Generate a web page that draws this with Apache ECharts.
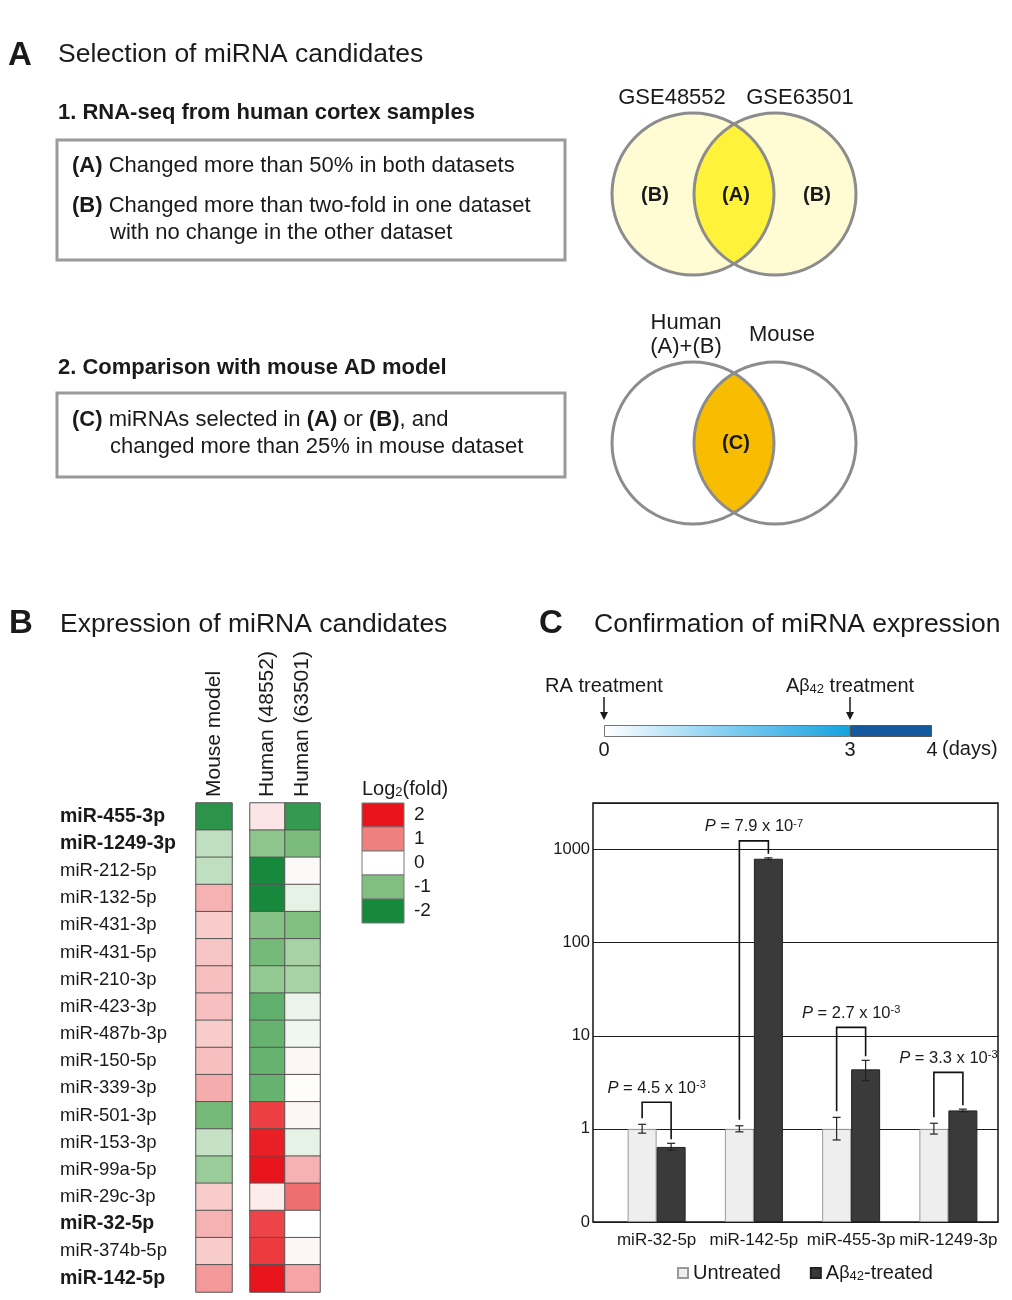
<!DOCTYPE html>
<html><head><meta charset="utf-8">
<script src="https://cdn.jsdelivr.net/npm/echarts@6/dist/echarts.min.js"></script>
<style>html,body{margin:0;padding:0;background:#fff}#c{width:1012px;height:1300px}</style>
</head><body><div id="c"></div>
<script>
const FONT = '"Liberation Sans", Arial, Helvetica, sans-serif';
const TXT = '#1a1a1a';

// ---------- Panel B : heatmap ----------
const ROWS = ['miR-455-3p','miR-1249-3p','miR-212-5p','miR-132-5p','miR-431-3p','miR-431-5p','miR-210-3p','miR-423-3p','miR-487b-3p','miR-150-5p','miR-339-3p','miR-501-3p','miR-153-3p','miR-99a-5p','miR-29c-3p','miR-32-5p','miR-374b-5p','miR-142-5p'];
const BOLD_ROWS = ['miR-455-3p','miR-1249-3p','miR-32-5p','miR-142-5p'];
const HEAT_COLS_MOUSE = ['Mouse model'];
const HEAT_COLS_HUMAN = ['Human (48552)','Human (63501)'];
const MOUSE_LOG2 = [-1.8,-0.5,-0.5,0.6,0.4,0.45,0.5,0.5,0.4,0.5,0.65,-1.1,-0.45,-0.8,0.4,0.6,0.4,0.8];
const HUMAN48552_LOG2 = [0.2,-0.9,-2,-2,-0.95,-1.1,-0.85,-1.3,-1.25,-1.25,-1.25,1.6,1.9,2,0.15,1.55,1.65,2];
const HUMAN63501_LOG2 = [-1.7,-1.05,0.05,-0.2,-1.0,-0.7,-0.7,-0.15,-0.12,0.08,0.02,0.08,-0.2,0.6,1.15,0,0.08,0.7];
const LEGEND_TICKS = [2,1,0,-1,-2];
const COLOR_STOPS = ['#16893c','#80bf80','#ffffff','#f07f80','#e8141b']; // -2 .. 2

// ---------- Panel C : bars ----------
const BAR_CATS = ['miR-32-5p','miR-142-5p','miR-455-3p','miR-1249-3p'];
const UNTREATED = [1,1,1,1];
const UNTREATED_LO = [0.90,0.93,0.76,0.88];
const UNTREATED_HI = [1.12,1.08,1.33,1.15];
const TREATED = [0.64,797,4.36,1.58];
const TREATED_LO = [0.59,780,3.3,1.53];
const TREATED_HI = [0.70,815,5.45,1.63];
const P_MANTISSA = ['4.5','7.9','2.7','3.3'];
const P_EXP = ['-3','-7','-3','-3'];
const BRACKET_TOP = [1.93,1240,12.3,4.05];
const Y_TICK_LABELS = ['0','1','10','100','1000'];

// ---------- Panel C : timeline ----------
const PHASE_START = [0,3];
const PHASE_END = [3,4];
const TIME_TICKS = [0,3,4];
const EVENT_DAYS = [0,3];
const EVENT_LABELS = ['RA treatment','A{b|β}{s|42} treatment'];

const BAR_W = 29;
const toAxis = v => Math.log10(v) + 1; // axis position: "0" label == 0.1

const sub = {fontSize: 13, fontFamily: FONT, fill: TXT, verticalAlign: 'bottom'};
const bold22 = {fontWeight: 'bold', fontSize: 22, fontFamily: FONT, fill: TXT};

function T(x, y, text, size, o) {
  return {type: 'text', x: x, y: y, z: 10,
    style: Object.assign({text: text, fontSize: size, fontFamily: FONT, fill: TXT, align: 'left', verticalAlign: 'middle'}, o || {})};
}
function lensPoints(cx1, cx2, cy, r) {
  const half = (cx2 - cx1) / 2;
  const a = Math.acos(half / r);
  const pts = [];
  const N = 60;
  for (let k = 0; k <= N; k++) {
    const t = -a + 2 * a * k / N;
    pts.push([cx1 + r * Math.cos(t), cy + r * Math.sin(t)]);
  }
  for (let k = 0; k <= N; k++) {
    const t = Math.PI - a + 2 * a * k / N;
    pts.push([cx2 + r * Math.cos(t), cy + r * Math.sin(t)]);
  }
  return pts;
}
function venn(cx1, cx2, cy, r, outer, inner) {
  return [
    {type: 'circle', z: 5, shape: {cx: cx1, cy: cy, r: r}, style: {fill: outer}},
    {type: 'circle', z: 5, shape: {cx: cx2, cy: cy, r: r}, style: {fill: outer}},
    {type: 'polygon', z: 6, shape: {points: lensPoints(cx1, cx2, cy, r)}, style: {fill: inner}},
    {type: 'circle', z: 7, shape: {cx: cx1, cy: cy, r: r}, style: {fill: 'none', stroke: '#8c8c8c', lineWidth: 3}},
    {type: 'circle', z: 7, shape: {cx: cx2, cy: cy, r: r}, style: {fill: 'none', stroke: '#8c8c8c', lineWidth: 3}}
  ];
}

const graphics = [
  T(8, 56, 'A', 33, {fontWeight: 'bold'}),
  T(58, 55, 'Selection of miRNA candidates', 26.5),
  T(58, 113, '1. RNA-seq from human cortex samples', 22, {fontWeight: 'bold'}),
  {type: 'rect', z: 5, shape: {x: 57, y: 140, width: 508, height: 120}, style: {fill: '#fff', stroke: '#9a9a9a', lineWidth: 3}},
  T(72, 166, '{b|(A)} Changed more than 50% in both datasets', 22, {rich: {b: bold22}}),
  T(72, 206, '{b|(B)} Changed more than two-fold in one dataset', 22, {rich: {b: bold22}}),
  T(110, 233, 'with no change in the other dataset', 22),
  T(58, 368, '2. Comparison with mouse AD model', 22, {fontWeight: 'bold'}),
  {type: 'rect', z: 5, shape: {x: 57, y: 393, width: 508, height: 84}, style: {fill: '#fff', stroke: '#9a9a9a', lineWidth: 3}},
  T(72, 420, '{b|(C)} miRNAs selected in {b|(A)} or {b|(B)}, and', 22, {rich: {b: bold22}}),
  T(110, 447, 'changed more than 25% in mouse dataset', 22),
  ...venn(693, 775, 194, 81, '#fffbd2', '#fff23a'),
  T(672, 98, 'GSE48552', 22, {align: 'center'}),
  T(800, 98, 'GSE63501', 22, {align: 'center'}),
  T(655, 195, '(B)', 20, {align: 'center', fontWeight: 'bold'}),
  T(736, 195, '(A)', 20, {align: 'center', fontWeight: 'bold'}),
  T(817, 195, '(B)', 20, {align: 'center', fontWeight: 'bold'}),
  ...venn(693, 775, 443, 81, '#ffffff', '#f8bc00'),
  T(686, 323, 'Human', 22, {align: 'center'}),
  T(686, 347, '(A)+(B)', 22, {align: 'center'}),
  T(782, 335, 'Mouse', 22, {align: 'center'}),
  T(736, 443, '(C)', 20, {align: 'center', fontWeight: 'bold'}),
  T(9, 624, 'B', 33, {fontWeight: 'bold'}),
  T(60, 625, 'Expression of miRNA candidates', 26.5),
  T(539, 624, 'C', 33, {fontWeight: 'bold'}),
  T(594, 625, 'Confirmation of miRNA expression', 26.5),
  T(362, 789, 'Log{s|2}(fold)', 20, {rich: {s: sub}}),
  T(942, 749, '(days)', 20)
];
LEGEND_TICKS.forEach((v, i) => {
  graphics.push({type: 'rect', z: 5, shape: {x: 362, y: 803 + i * 24, width: 42, height: 24},
    style: {fill: COLOR_STOPS[v + 2], stroke: '#777', lineWidth: 1}});
  graphics.push(T(414, 815 + i * 24, String(v), 19));
});

const heatMouse = MOUSE_LOG2.map((v, i) => [0, i, v]);
const heatHuman = HUMAN48552_LOG2.map((v, i) => [0, i, v]).concat(HUMAN63501_LOG2.map((v, i) => [1, i, v]));

const chart = echarts.init(document.getElementById('c'), null, {renderer: 'canvas'});
const headerLabel = {rotate: -90, fontSize: 21, fontFamily: FONT, color: TXT, margin: 6, interval: 0};

chart.setOption({
  backgroundColor: '#ffffff',
  animation: false,
  textStyle: {fontFamily: FONT, color: TXT},
  graphic: graphics,
  visualMap: {type: 'continuous', show: false, min: -2, max: 2, seriesIndex: [0, 1], inRange: {color: COLOR_STOPS}},
  legend: {
    left: 672, top: 1258, itemWidth: 10, itemHeight: 10, itemGap: 29, icon: 'rect',
    data: ['Untreated', 'Aβ42-treated'],
    formatter: n => n === 'Aβ42-treated' ? 'A{b|β}{s|42}-treated' : n,
    textStyle: {fontSize: 20, fontFamily: FONT, color: TXT,
      rich: {b: {fontSize: 18, fontFamily: FONT, fill: TXT}, s: sub}}
  },
  grid: [
    {left: 196, top: 803, width: 36, height: 489},
    {left: 250, top: 803, width: 70, height: 489},
    {left: 604, top: 725, width: 328, height: 12},
    {left: 593, top: 803, width: 405, height: 419, show: true, borderColor: '#111', borderWidth: 1.5, backgroundColor: 'transparent'},
    {left: 608, top: 803, width: 389, height: 419}
  ],
  xAxis: [
    {gridIndex: 0, type: 'category', data: HEAT_COLS_MOUSE, position: 'top', axisLine: {show: false}, axisTick: {show: false}, axisLabel: headerLabel},
    {gridIndex: 1, type: 'category', data: HEAT_COLS_HUMAN, position: 'top', axisLine: {show: false}, axisTick: {show: false}, axisLabel: headerLabel},
    {gridIndex: 2, type: 'value', min: 0, max: 4, interval: 1, axisLine: {show: false}, axisTick: {show: false}, splitLine: {show: false},
      axisLabel: {fontSize: 20, fontFamily: FONT, color: TXT, margin: 3, formatter: v => TIME_TICKS.includes(v) ? String(v) : ''}},
    {gridIndex: 3, type: 'value', min: 0, max: 1, show: false},
    {gridIndex: 4, type: 'category', data: BAR_CATS, axisLine: {show: false}, axisTick: {show: false},
      axisLabel: {fontSize: 17, fontFamily: FONT, color: TXT, margin: 10, interval: 0}}
  ],
  yAxis: [
    {gridIndex: 0, type: 'category', data: ROWS, inverse: true, axisLine: {show: false}, axisTick: {show: false},
      axisLabel: {interval: 0, align: 'left', margin: 136, color: TXT,
        formatter: v => BOLD_ROWS.includes(v) ? `{b|${v}}` : `{r|${v}}`,
        rich: {b: {fontWeight: 'bold', fontSize: 19.5, fontFamily: FONT, color: TXT}, r: {fontSize: 18.5, fontFamily: FONT, color: TXT}}}},
    {gridIndex: 1, type: 'category', data: ROWS, inverse: true, show: false},
    {gridIndex: 2, type: 'category', data: ['days'], show: false},
    {gridIndex: 3, type: 'value', min: 0, max: 4.5, interval: 1, axisLine: {show: false}, axisTick: {show: false},
      splitLine: {show: true, lineStyle: {color: '#1a1a1a', width: 1}},
      axisLabel: {fontSize: 16.5, fontFamily: FONT, color: TXT, margin: 3,
        formatter: v => (Number.isInteger(v) && v < Y_TICK_LABELS.length) ? Y_TICK_LABELS[v] : ''}},
    {gridIndex: 4, type: 'value', min: 0, max: 4.5, show: false}
  ],
  series: [
    {type: 'heatmap', xAxisIndex: 0, yAxisIndex: 0, data: heatMouse, itemStyle: {borderColor: '#555', borderWidth: 1}},
    {type: 'heatmap', xAxisIndex: 1, yAxisIndex: 1, data: heatHuman, itemStyle: {borderColor: '#555', borderWidth: 1}},
    {type: 'bar', name: 'phase0', xAxisIndex: 2, yAxisIndex: 2, stack: 'tl', barWidth: 12,
      data: [PHASE_END[0] - PHASE_START[0]],
      itemStyle: {borderColor: '#777', borderWidth: 1,
        color: new echarts.graphic.LinearGradient(0, 0, 1, 0, [{offset: 0, color: '#ffffff'}, {offset: 0.45, color: '#8fd2f3'}, {offset: 1, color: '#16a1df'}])}},
    {type: 'bar', name: 'phase1', xAxisIndex: 2, yAxisIndex: 2, stack: 'tl', barWidth: 12,
      data: [PHASE_END[1] - PHASE_START[1]],
      itemStyle: {color: '#13599f', borderColor: '#555', borderWidth: 1}},
    {type: 'custom', xAxisIndex: 2, yAxisIndex: 2, data: EVENT_DAYS.map((d, i) => [d, 0, i]), encode: {x: 0, y: 1}, z: 5,
      renderItem: (params, api) => {
        const p = api.coord([api.value(0), 0]);
        const x = p[0], y = p[1];
        return {type: 'group', children: [
          {type: 'line', shape: {x1: x, y1: y - 34, x2: x, y2: y - 16}, style: {stroke: '#1a1a1a', lineWidth: 1.5}},
          {type: 'polygon', shape: {points: [[x - 4, y - 19], [x + 4, y - 19], [x, y - 11]]}, style: {fill: '#1a1a1a'}},
          {type: 'text', style: {x: x, y: y - 45, text: EVENT_LABELS[api.value(2)], align: 'center', verticalAlign: 'middle',
            fontSize: 20, fontFamily: FONT, fill: TXT, rich: {b: {fontSize: 18, fontFamily: FONT, fill: TXT}, s: sub}}}
        ]};
      }},
    {type: 'bar', name: 'Untreated', xAxisIndex: 4, yAxisIndex: 4, barWidth: BAR_W, barGap: '0%',
      data: UNTREATED.map(toAxis), itemStyle: {color: '#eeeeee', borderColor: '#999', borderWidth: 1}},
    {type: 'bar', name: 'Aβ42-treated', xAxisIndex: 4, yAxisIndex: 4, barWidth: BAR_W, barGap: '0%',
      data: TREATED.map(toAxis), itemStyle: {color: '#3a3a3a', borderColor: '#222', borderWidth: 1}},
    {type: 'custom', xAxisIndex: 4, yAxisIndex: 4, z: 5,
      data: BAR_CATS.map((c, i) => [i, toAxis(UNTREATED_LO[i]), toAxis(UNTREATED_HI[i]), -1])
        .concat(BAR_CATS.map((c, i) => [i, toAxis(TREATED_LO[i]), toAxis(TREATED_HI[i]), 1])),
      encode: {x: 0, y: [1, 2]},
      renderItem: (params, api) => {
        const pl = api.coord([api.value(0), api.value(1)]), ph = api.coord([api.value(0), api.value(2)]);
        const x = pl[0] + api.value(3) * BAR_W / 2;
        const st = {stroke: '#222', lineWidth: 1.2};
        return {type: 'group', children: [
          {type: 'line', shape: {x1: x, y1: pl[1], x2: x, y2: ph[1]}, style: st},
          {type: 'line', shape: {x1: x - 4, y1: pl[1], x2: x + 4, y2: pl[1]}, style: st},
          {type: 'line', shape: {x1: x - 4, y1: ph[1], x2: x + 4, y2: ph[1]}, style: st}
        ]};
      }},
    {type: 'custom', xAxisIndex: 4, yAxisIndex: 4, z: 6,
      data: BAR_CATS.map((c, i) => [i, toAxis(UNTREATED_HI[i]), toAxis(TREATED_HI[i]), toAxis(BRACKET_TOP[i])]),
      encode: {x: 0, y: [1, 2, 3]},
      renderItem: (params, api) => {
        const c = api.value(0), i = params.dataIndex;
        const pu = api.coord([c, api.value(1)]), pt = api.coord([c, api.value(2)]), ptop = api.coord([c, api.value(3)]);
        const xl = pu[0] - BAR_W / 2, xr = pu[0] + BAR_W / 2;
        return {type: 'group', children: [
          {type: 'polyline', shape: {points: [[xl, pu[1] - 6], [xl, ptop[1]], [xr, ptop[1]], [xr, pt[1] - 4]]},
            style: {stroke: '#111', lineWidth: 1.6, fill: 'none'}},
          {type: 'text', style: {x: (xl + xr) / 2, y: ptop[1] - 14, align: 'center', verticalAlign: 'middle',
            text: `{i|P} = ${P_MANTISSA[i]} x 10{s|${P_EXP[i]}}`, fontSize: 16.5, fontFamily: FONT, fill: TXT,
            rich: {i: {fontStyle: 'italic', fontSize: 16.5, fontFamily: FONT, fill: TXT},
                   s: {fontSize: 11, fontFamily: FONT, fill: TXT, verticalAlign: 'top'}}}}
        ]};
      }}
  ]
});
</script></body></html>
